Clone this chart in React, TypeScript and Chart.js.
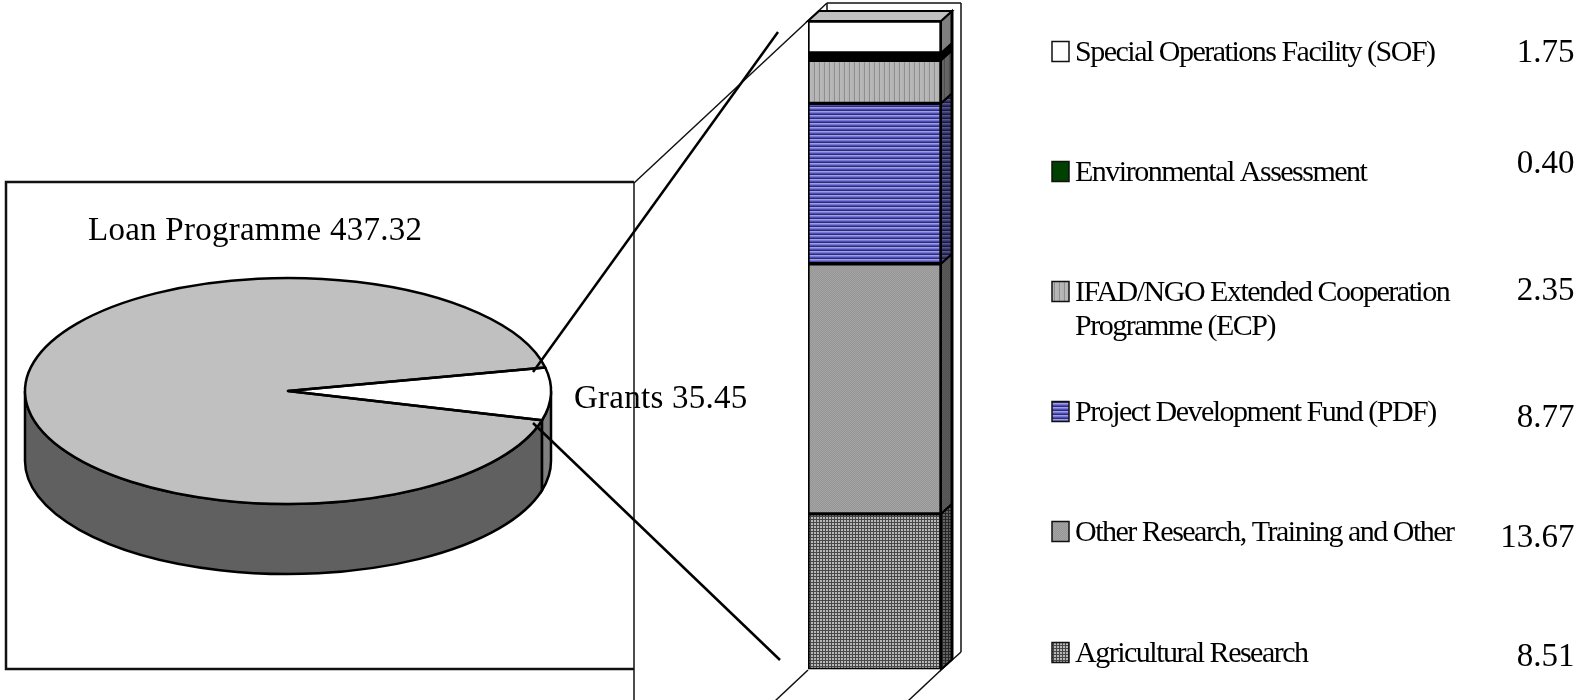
import React, { useEffect, useRef } from "react";
import { Chart, registerables } from "chart.js";

Chart.register(...registerables);

// Resources split between the two programmes
const programmeNames = ["Loan Programme", "Grants"];
const programmeValues = [437.32, 35.45];

// Breakdown of the grants, listed from the top of the stack down
const grantNames = [
  ["Special Operations Facility (SOF)"],
  ["Environmental Assessment"],
  ["IFAD/NGO Extended Cooperation", "Programme (ECP)"],
  ["Project Development Fund (PDF)"],
  ["Other Research, Training and Other"],
  ["Agricultural Research"],
];
const grantValues = [1.75, 0.4, 2.35, 8.77, 13.67, 8.51];

const WIDTH = 1579;
const HEIGHT = 700;
const SERIF = '"Liberation Serif", serif';

// Pie geometry: a circle squashed into an ellipse, with a side wall below it
const PIE = { cx: 288, cy: 391, rx: 263, ry: 113, depth: 70 };
const pieColors = ["#C0C0C0", "#FFFFFF"];
const pieWallColors = ["#606060", "#808080"];

// Stack geometry
const STACK = { left: 808, right: 941, top: 21, bottom: 669.5, dx: 11, dy: 10 };

// Legend layout, one entry per row
const legendBaselines = [60.5, 180.5, 300.5, 420.5, 540.5, 661.5];
const valueBaselines = [61.5, 173, 300, 426.5, 547, 666];
const LEGEND_LINE_GAP = 34.5;

type Painter = (g: CanvasRenderingContext2D, size: number) => void;

const fillRows = (rows: string[]): Painter => (g, size) => {
  for (let y = 0; y < size; y++) {
    g.fillStyle = rows[y % rows.length];
    g.fillRect(0, y, size, 1);
  }
};
const fillCols = (cols: string[]): Painter => (g, size) => {
  for (let x = 0; x < size; x++) {
    g.fillStyle = cols[x % cols.length];
    g.fillRect(x, 0, 1, size);
  }
};
const fillChecker = (a: string, b: string): Painter => (g, size) => {
  for (let y = 0; y < size; y++)
    for (let x = 0; x < size; x++) {
      g.fillStyle = (x + y) % 2 ? a : b;
      g.fillRect(x, y, 1, 1);
    }
};
const fillGrid = (line: string, cell: string, period: number): Painter => (g, size) => {
  g.fillStyle = cell;
  g.fillRect(0, 0, size, size);
  g.fillStyle = line;
  for (let i = 0; i < size; i += period) {
    g.fillRect(i, 0, 1, size);
    g.fillRect(0, i, size, 1);
  }
};

// One fill per grant, in the same order as grantNames
const painters: Painter[] = [
  fillRows(["#FFFFFF"]),
  fillRows(["#000000"]),
  fillCols(["#B8B8B8", "#B8B8B8", "#B4B4B4", "#B4B4B4", "#8E8E8E"]),
  fillRows(["#7878CC", "#4C4CB4", "#2A2A88", "#A0A0D8"]),
  fillChecker("#969696", "#A4A4A4"),
  fillGrid("#484848", "#B8B8B8", 3),
];
const swatchPainters: Painter[] = [
  painters[0],
  fillRows(["#004000"]),
  painters[2],
  painters[3],
  painters[4],
  painters[5],
];

function makePattern(paint: Painter, shade = 0): CanvasPattern {
  const tile = document.createElement("canvas");
  const size = 60;
  tile.width = size;
  tile.height = size;
  const g = tile.getContext("2d")!;
  paint(g, size);
  if (shade > 0) {
    g.fillStyle = `rgba(0,0,0,${shade})`;
    g.fillRect(0, 0, size, size);
  }
  return g.createPattern(tile, "repeat")!;
}

function drawText(ctx: CanvasRenderingContext2D, text: string, x: number, y: number, font: string, spacing: number, align: CanvasTextAlign = "left") {
  ctx.save();
  ctx.font = font;
  (ctx as any).letterSpacing = `${spacing}px`;
  ctx.textAlign = align;
  ctx.textBaseline = "alphabetic";
  ctx.fillStyle = "#000000";
  ctx.fillText(text, x, y);
  ctx.restore();
}

function segment(ctx: CanvasRenderingContext2D, x0: number, y0: number, x1: number, y1: number, width: number, color = "#000000") {
  ctx.save();
  ctx.strokeStyle = color;
  ctx.lineWidth = width;
  ctx.beginPath();
  ctx.moveTo(x0, y0);
  ctx.lineTo(x1, y1);
  ctx.stroke();
  ctx.restore();
}

// Squashes the pie arcs into an ellipse and adds the wall and outlines round them
const piePlugin = {
  id: "pieCylinder",
  beforeDraw(chart: any) {
    const { ctx } = chart;
    ctx.save();
    ctx.strokeStyle = "#111111";
    ctx.lineWidth = 2.5;
    ctx.beginPath();
    ctx.moveTo(634, 182);
    ctx.lineTo(6, 182);
    ctx.lineTo(6, 669);
    ctx.lineTo(634, 669);
    ctx.stroke();
    ctx.restore();
  },
  beforeDatasetsDraw(chart: any) {
    const { ctx } = chart;
    const { cx, cy, rx, ry, depth } = PIE;
    const arcs = chart.getDatasetMeta(0).data;
    ctx.save();
    ctx.strokeStyle = "#000000";
    ctx.lineWidth = 2.5;
    arcs.forEach((arc: any, i: number) => {
      for (let k = -1; k <= 1; k++) {
        const from = Math.max(arc.startAngle, 2 * Math.PI * k);
        const to = Math.min(arc.endAngle, Math.PI + 2 * Math.PI * k);
        if (to <= from) continue;
        ctx.beginPath();
        ctx.ellipse(cx, cy + depth, rx, ry, 0, from, to);
        ctx.lineTo(cx + rx * Math.cos(to), cy + ry * Math.sin(to));
        ctx.ellipse(cx, cy, rx, ry, 0, to, from, true);
        ctx.closePath();
        ctx.fillStyle = pieWallColors[i];
        ctx.fill();
        ctx.stroke();
      }
    });
    ctx.restore();

    ctx.save();
    ctx.translate(cx, cy);
    ctx.scale(1, ry / rx);
    ctx.translate(-cx, -cy);
  },
  afterDatasetsDraw(chart: any) {
    const { ctx } = chart;
    ctx.restore();
    const { cx, cy, rx, ry } = PIE;
    ctx.save();
    ctx.strokeStyle = "#000000";
    ctx.lineWidth = 2.5;
    ctx.lineJoin = "round";
    chart.getDatasetMeta(0).data.forEach((arc: any) => {
      ctx.beginPath();
      ctx.moveTo(cx, cy);
      ctx.ellipse(cx, cy, rx, ry, 0, arc.startAngle, arc.endAngle);
      ctx.closePath();
      ctx.stroke();
    });
    ctx.restore();
    const font = `33px ${SERIF}`;
    drawText(ctx, `${programmeNames[0]} ${programmeValues[0].toFixed(2)}`, 88, 240, font, 0.25);
    drawText(ctx, `${programmeNames[1]} ${programmeValues[1].toFixed(2)}`, 574, 408, font, 0.25);
  },
};

// Adds the depth faces, the box behind the stack and the legend
const stackPlugin = {
  id: "stackDepth",
  beforeDatasetsDraw(chart: any) {
    const { ctx } = chart;
    const wall = "#111111";
    segment(ctx, 634, 183, 634, 700, 1.5, wall);
    segment(ctx, 634, 183, 827, 3, 1.5, wall);
    segment(ctx, 827, 3, 961, 3, 1.5, wall);
    segment(ctx, 961, 3, 961, 652, 1.5, wall);
    segment(ctx, 961, 652, 941, 670, 1.5, wall);
    segment(ctx, 808, 670, 775, 701, 1.5, wall);
    segment(ctx, 941, 670, 908, 701, 1.5, wall);
    segment(ctx, 827, 3, 827, 12, 1.5, wall);
  },
  afterDatasetsDraw(chart: any) {
    const { ctx } = chart;
    const { dx, dy } = STACK;
    ctx.save();
    ctx.strokeStyle = "#000000";
    ctx.lineWidth = 2;
    ctx.lineJoin = "miter";
    let topMost: any = null;
    chart.data.datasets.forEach((set: any, i: number) => {
      const bar = chart.getDatasetMeta(i).data[0];
      const { x, y, base, width } = bar.getProps(["x", "y", "base", "width"], true);
      const right = x + width / 2;
      ctx.beginPath();
      ctx.moveTo(right, base);
      ctx.lineTo(right + dx, base - dy);
      ctx.lineTo(right + dx, y - dy);
      ctx.lineTo(right, y);
      ctx.closePath();
      ctx.fillStyle = set.sideFill;
      ctx.fill();
      ctx.stroke();
      topMost = { x, y, width };
    });
    if (topMost) {
      const left = topMost.x - topMost.width / 2;
      const right = topMost.x + topMost.width / 2;
      ctx.beginPath();
      ctx.moveTo(left, topMost.y);
      ctx.lineTo(left + dx, topMost.y - dy);
      ctx.lineTo(right + dx, topMost.y - dy);
      ctx.lineTo(right, topMost.y);
      ctx.closePath();
      ctx.fillStyle = "#C0C0C0";
      ctx.fill();
      ctx.stroke();
      ctx.lineWidth = 3;
      ctx.beginPath();
      ctx.moveTo(right + dx, topMost.y - dy);
      ctx.lineTo(right + dx, STACK.bottom - dy);
      ctx.stroke();
    }
    ctx.restore();

    // Connectors from the Grants slice to the stack
    segment(ctx, 533, 372, 778, 32, 2.5);
    segment(ctx, 533, 423, 780, 660, 2.5);

    // Legend rows with their values
    grantNames.forEach((lines, i) => {
      const base = legendBaselines[i];
      ctx.save();
      ctx.fillStyle = makePattern(swatchPainters[i]);
      ctx.fillRect(1052, base - 19, 17, 20);
      ctx.strokeStyle = "#111111";
      ctx.lineWidth = 1.5;
      ctx.strokeRect(1052, base - 19, 17, 20);
      ctx.restore();
      lines.forEach((line, j) => {
        drawText(ctx, line, 1075, base + j * LEGEND_LINE_GAP, `30px ${SERIF}`, -1.5);
      });
      drawText(ctx, grantValues[i].toFixed(2), 1574.5, valueBaselines[i], `33px ${SERIF}`, 0, "right");
    });
  },
};

export default function App() {
  const pieRef = useRef<HTMLCanvasElement>(null);
  const stackRef = useRef<HTMLCanvasElement>(null);

  useEffect(() => {
    const { cx, cy, rx } = PIE;
    const pie = new Chart(pieRef.current!, {
      type: "pie",
      data: {
        labels: programmeNames,
        datasets: [{ data: programmeValues, backgroundColor: pieColors, borderWidth: 0 }],
      },
      options: {
        animation: false,
        responsive: false,
        devicePixelRatio: 1,
        rotation: 105,
        layout: {
          padding: {
            left: cx - rx,
            right: WIDTH - (cx + rx),
            top: cy - rx,
            bottom: HEIGHT - (cy + rx),
          },
        },
        plugins: { legend: { display: false }, tooltip: { enabled: false } },
      },
      plugins: [piePlugin],
    } as any);

    // The stack is built from the bottom up
    const order = grantValues.map((_, i) => grantValues.length - 1 - i);
    const stack = new Chart(stackRef.current!, {
      type: "bar",
      data: {
        labels: ["Grants"],
        datasets: order.map((i) => ({
          label: grantNames[i].join(" "),
          data: [grantValues[i]],
          backgroundColor: makePattern(painters[i]),
          sideFill: makePattern(painters[i], i === 0 ? 0.5 : 0.45),
          borderColor: "#000000",
          borderWidth: 2,
          borderSkipped: false,
          barPercentage: 1,
          categoryPercentage: 1,
        })),
      },
      options: {
        animation: false,
        responsive: false,
        devicePixelRatio: 1,
        layout: {
          padding: {
            left: STACK.left,
            right: WIDTH - STACK.right,
            top: STACK.top,
            bottom: HEIGHT - STACK.bottom,
          },
        },
        scales: {
          x: { display: false, stacked: true },
          y: {
            display: false,
            stacked: true,
            min: 0,
            max: grantValues.reduce((a, b) => a + b, 0),
          },
        },
        plugins: { legend: { display: false }, tooltip: { enabled: false } },
      },
      plugins: [stackPlugin],
    } as any);

    return () => {
      pie.destroy();
      stack.destroy();
    };
  }, []);

  const layer: React.CSSProperties = { position: "absolute", left: 0, top: 0 };
  return (
    <div style={{ position: "fixed", left: 0, top: 0, width: WIDTH, height: HEIGHT, background: "#FFFFFF" }}>
      <canvas ref={pieRef} width={WIDTH} height={HEIGHT} style={layer} />
      <canvas ref={stackRef} width={WIDTH} height={HEIGHT} style={layer} />
    </div>
  );
}
